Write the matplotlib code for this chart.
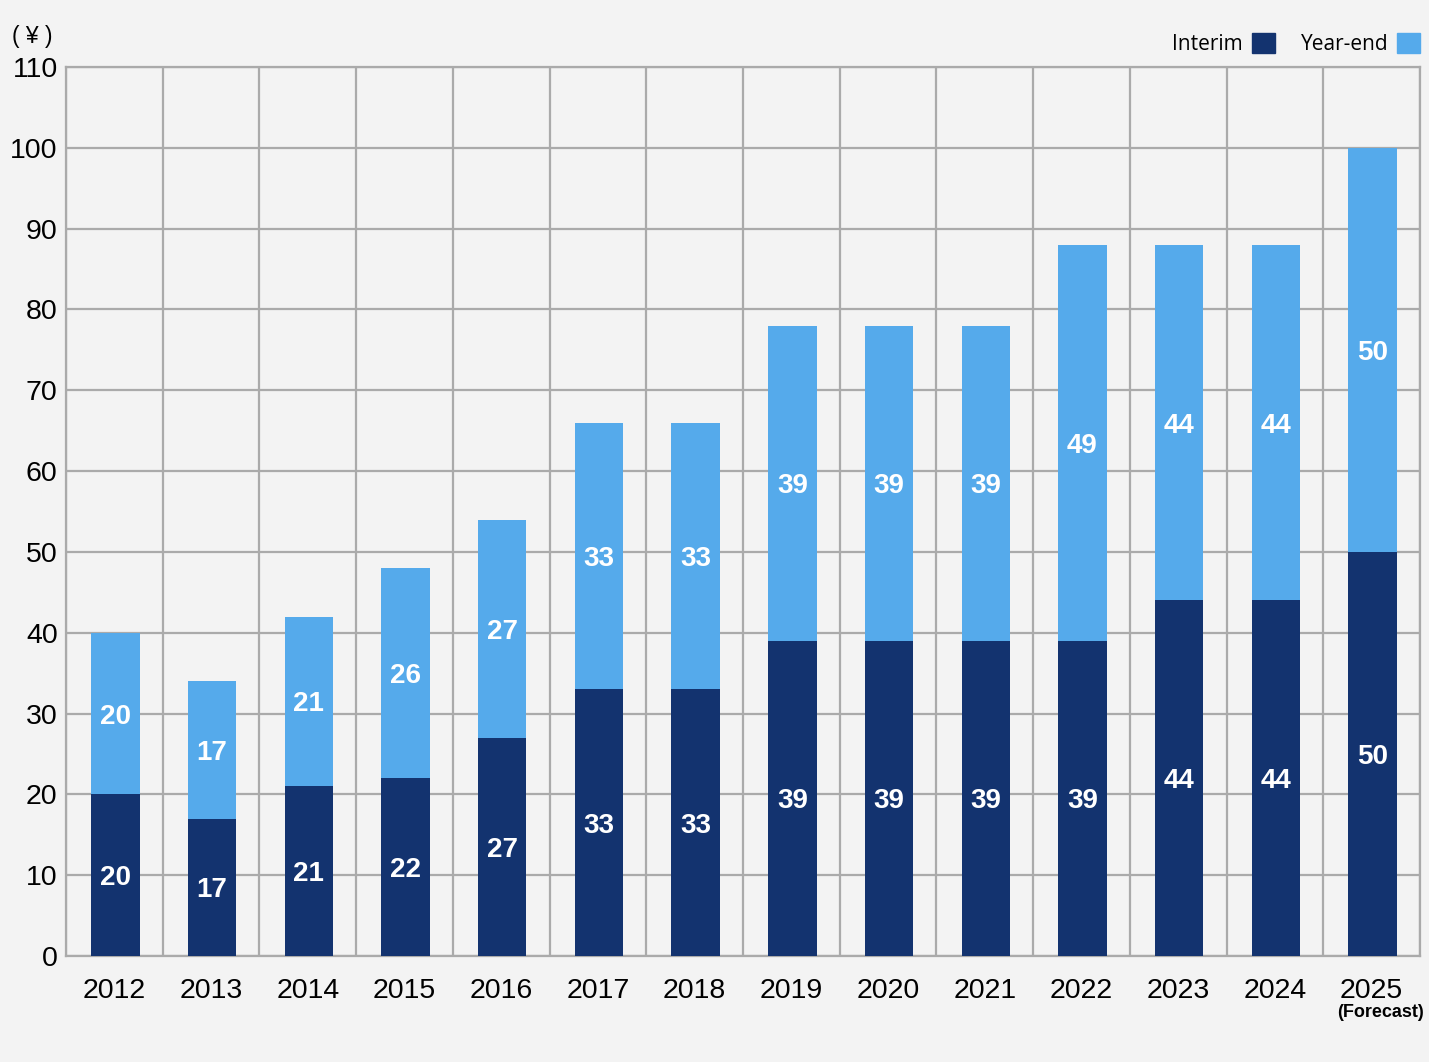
# dividend per share, interim + year-end stacked

import numpy as np
import matplotlib.pyplot as plt
from matplotlib.patches import Patch

plt.rcParams['font.family'] = ['Liberation Sans', 'DejaVu Sans']

years = ['2012', '2013', '2014', '2015', '2016', '2017', '2018',
         '2019', '2020', '2021', '2022', '2023', '2024', '2025']
interim = [20, 17, 21, 22, 27, 33, 33, 39, 39, 39, 39, 44, 44, 50]
year_end = [20, 17, 21, 26, 27, 33, 33, 39, 39, 39, 49, 44, 44, 50]

dark = '#13336F'
light = '#55AAEB'
bg = '#F3F3F3'
grid = '#AAAAAA'

fig = plt.figure(figsize=(14.29, 10.62), dpi=100, facecolor=bg)
ax = fig.add_axes([66/1429, 1 - 956/1062, (1420-66)/1429, (956-67)/1062])
ax.set_facecolor(bg)

x = np.arange(len(years))
ax.bar(x + 0.01, interim, width=0.5, color=dark, zorder=3)
ax.bar(x + 0.01, year_end, width=0.5, bottom=interim, color=light, zorder=3)

for i in range(len(years)):
    ax.text(x[i] + 0.01, interim[i] / 2, str(interim[i]), ha='center', va='center_baseline',
            color='white', fontsize=20, fontweight='bold', zorder=4)
    ax.text(x[i] + 0.01, interim[i] + year_end[i] / 2, str(year_end[i]), ha='center',
            va='center_baseline', color='white', fontsize=20, fontweight='bold', zorder=4)

ax.set_xlim(-0.5, len(years) - 0.5)
ax.set_ylim(0, 110)
ax.set_yticks(np.arange(0, 111, 10))
ax.set_xticks(x)
ax.set_xticklabels(years)
ax.set_xticks(np.arange(-0.5, len(years), 1), minor=True)
ax.grid(axis='y', which='major', color=grid, lw=1.6, zorder=1)
ax.grid(axis='x', which='minor', color=grid, lw=1.6, zorder=1)
ax.tick_params(axis='both', which='both', length=0, labelsize=20.5)
ax.tick_params(axis='y', pad=6)
ax.tick_params(axis='x', pad=16)

ax.text(x[-1] + 0.09, -7.0, '(Forecast)', ha='center', va='center',
        fontsize=13, fontweight='bold', clip_on=False)
for s in ax.spines.values():
    s.set_color(grid)
    s.set_linewidth(1.6)

fig.text(12/1429, 1 - 37/1062, '( ¥ )', fontsize=16.5, va='center', ha='left')

handles = [Patch(color=dark), Patch(color=light)]
ax.legend(handles, ['Interim', 'Year-end'], ncol=2, markerfirst=False,
          frameon=False, loc='lower right', bbox_to_anchor=(1.008, 1.0015),
          handlelength=1.1, handleheight=1.1, handletextpad=0.43,
          columnspacing=1.25, borderaxespad=0.1,
          prop={'family': ['Open Sans', 'DejaVu Sans'], 'size': 15})

fig.savefig('out.png', dpi=100, facecolor=bg)
